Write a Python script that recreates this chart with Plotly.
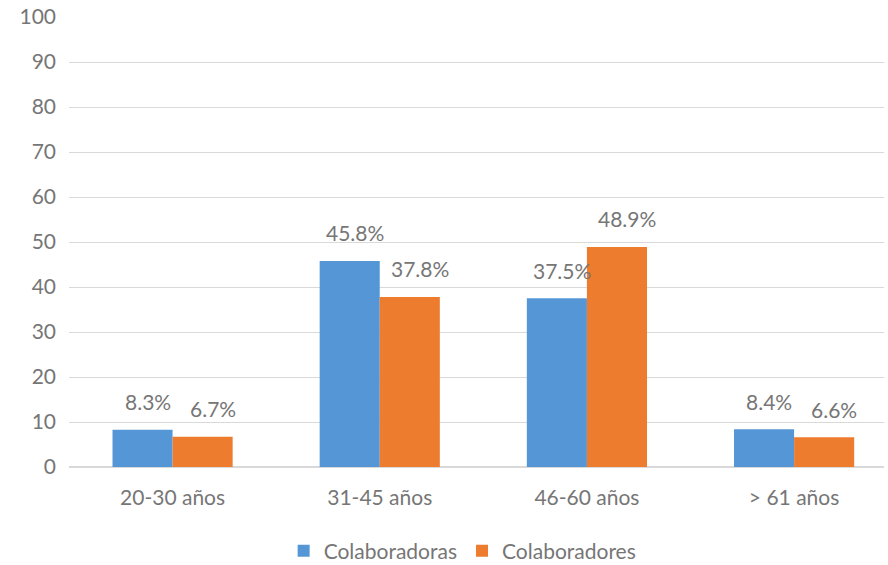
import plotly.graph_objects as go

# Age brackets and share of staff (%) per group
categories = ["20-30 años", "31-45 años", "46-60 años", "> 61 años"]
colaboradoras = [8.3, 45.8, 37.5, 8.4]
colaboradores = [6.7, 37.8, 48.9, 6.6]
y_ticks = [0, 10, 20, 30, 40, 50, 60, 70, 80, 90, 100]

FONT = "Lato"
SIZE = 21
GREY = "#767676"
BLUE = "#5597d6"
ORANGE = "#ee7c2e"

fig = go.Figure()
fig.add_trace(go.Bar(name="Colaboradoras", x=categories, y=colaboradoras,
                     marker=dict(color=BLUE, line=dict(width=0))))
fig.add_trace(go.Bar(name="Colaboradores", x=categories, y=colaboradores,
                     marker=dict(color=ORANGE, line=dict(width=0))))

# Value labels above each bar
for vals, shift in ((colaboradoras, -25), (colaboradores, 40)):
    for cat, v in zip(categories, vals):
        fig.add_annotation(x=cat, y=v, text=f"{v:.1f}%", showarrow=False,
                           xshift=shift, yshift=28, yanchor="middle",
                           font=dict(family=FONT, size=SIZE, color=GREY))

fig.update_layout(
    width=888, height=565,
    margin=dict(l=69, r=4, t=17, b=98, autoexpand=False),
    paper_bgcolor="white", plot_bgcolor="white",
    barmode="group", bargap=0.42, bargroupgap=0,
    font=dict(family=FONT, size=SIZE, color=GREY),
    showlegend=True,
    legend=dict(orientation="h", x=0.483, xanchor="center", xref="paper",
                y=14 / 565, yref="container", yanchor="middle",
                font=dict(family=FONT, size=SIZE, color=GREY), itemwidth=30,
                traceorder="normal"),
    xaxis=dict(type="category", range=[-0.5, 3.434], showgrid=False, automargin=False,
               showline=False, ticks="", ticklabelstandoff=16,
               tickfont=dict(size=SIZE, color=GREY)),
    yaxis=dict(range=[0, 100], tickvals=y_ticks, showgrid=True, gridcolor="#d9d9d9",
               gridwidth=1, zeroline=True, zerolinecolor="#d9d9d9", showline=False,
               automargin=False, ticks="", ticklabelstandoff=12,
               tickfont=dict(size=SIZE, color=GREY)),
)

fig.write_html("out.html")
